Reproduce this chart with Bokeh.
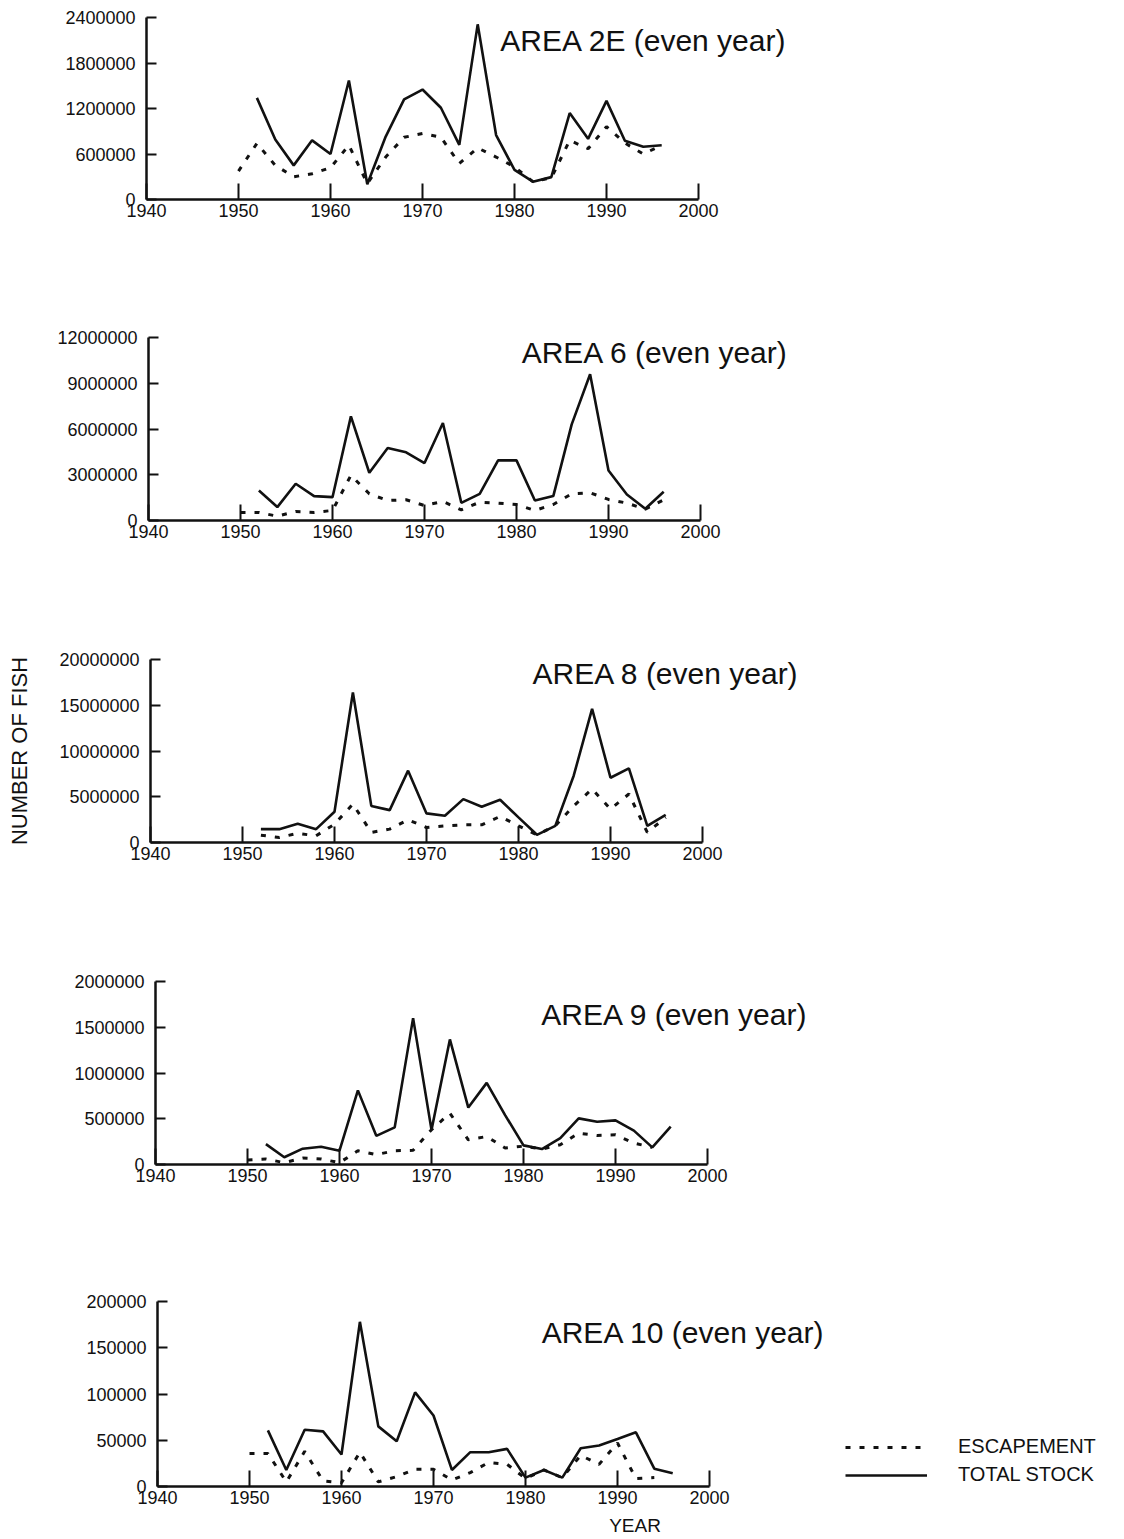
import math
from bokeh.plotting import figure
from bokeh.models import Range1d, FixedTicker, BasicTickFormatter, Label, Legend, LegendItem, Spacer
from bokeh.layouts import column, row
from bokeh.embed import file_html
from bokeh.resources import INLINE

NaN = float("nan")

# ---------------- data ----------------
years = list(range(1950, 1997, 2))
x_ticks = [1940, 1950, 1960, 1970, 1980, 1990, 2000]

area2e_total = [NaN, 1340000, 790000, 450000, 780000, 600000, 1570000, 200000, 830000, 1320000,
                1450000, 1210000, 720000, 2310000, 850000, 390000, 235000, 295000, 1140000, 800000,
                1300000, 775000, 695000, 715000]
area2e_esc = [375000, 740000, 450000, 300000, 340000, 420000, 715000, 210000, 560000, 820000,
              870000, 820000, 475000, 680000, 560000, 430000, 235000, 285000, 780000, 670000,
              960000, 745000, 600000, 715000]
area2e_yticks = [0, 600000, 1200000, 1800000, 2400000]

area6_total = [NaN, 1970000, 880000, 2410000, 1600000, 1530000, 6830000, 3130000, 4750000, 4470000,
               3770000, 6390000, 1160000, 1750000, 3940000, 3940000, 1310000, 1600000, 6300000, 9590000,
               3280000, 1710000, 770000, 1880000]
area6_esc = [530000, 530000, 280000, 590000, 530000, 660000, 2960000, 1750000, 1310000, 1360000,
             980000, 1250000, 700000, 1200000, 1140000, 1050000, 660000, 1050000, 1750000, 1820000,
             1380000, 1140000, 740000, 1360000]
area6_yticks = [0, 3000000, 6000000, 9000000, 12000000]

area8_total = [NaN, 1460000, 1460000, 2040000, 1460000, 3360000, 16400000, 4000000, 3540000, 7850000,
               3180000, 2920000, 4740000, 3900000, 4670000, 2740000, 840000, 1820000, 7300000, 14600000,
               7080000, 8100000, 1820000, 3030000]
area8_esc = [NaN, 800000, 550000, 1000000, 730000, 2000000, 4200000, 1100000, 1460000, 2480000,
             1640000, 1820000, 1930000, 1930000, 2850000, 1820000, 840000, 1820000, 4000000, 5840000,
             3650000, 5300000, 1100000, 2740000]
area8_yticks = [0, 5000000, 10000000, 15000000, 20000000]

area9_total = [NaN, 223000, 79000, 173000, 194000, 151000, 810000, 313000, 406000, 1600000,
               378000, 1367000, 622000, 892000, 540000, 209000, 169000, 288000, 504000, 468000,
               482000, 370000, 187000, 414000]
area9_esc = [50000, 60000, 20000, 70000, 60000, 20000, 150000, 108000, 150000, 155000,
             380000, 560000, 270000, 306000, 180000, 200000, 169000, 216000, 342000, 317000,
             324000, 234000, 187000, NaN]
area9_yticks = [0, 500000, 1000000, 1500000, 2000000]

area10_total = [NaN, 60700, 17900, 61400, 59600, 34600, 178000, 65000, 48900, 101800,
                76800, 17900, 37100, 37100, 40700, 9600, 17900, 9600, 41400, 44300,
                51400, 58600, 19300, 14300]
area10_esc = [35700, 35700, 5000, 38000, 6000, 4000, 37000, 5000, 10700, 18600,
              18600, 7000, 15000, 26000, 24000, 8600, 17900, 9600, 33600, 24000,
              47000, 8600, 9600, NaN]
area10_yticks = [0, 50000, 100000, 150000, 200000]

titles = ["AREA 2E (even year)", "AREA 6 (even year)", "AREA 8 (even year)",
          "AREA 9 (even year)", "AREA 10 (even year)"]

# ---------------- layout / style ----------------
FONT = "Liberation Sans"
TOTAL_W = 1116
AXIS_W = 552          # pixel width of the 1940-2000 span
RIGHT = 4
INK = "#111111"

panels = [
    dict(total=area2e_total, esc=area2e_esc, yt=area2e_yticks, h=328, top=17, fh=182, left=130, shift=16, tx=0.641, ty=0.875),
    dict(total=area6_total, esc=area6_esc, yt=area6_yticks, h=320, top=9, fh=183, left=130, shift=18, tx=0.676, ty=0.918),
    dict(total=area8_total, esc=area8_esc, yt=area8_yticks, h=321, top=11, fh=183, left=150, shift=0, tx=0.692, ty=0.923),
    dict(total=area9_total, esc=area9_esc, yt=area9_yticks, h=320, top=12, fh=183, left=130, shift=25, tx=0.699, ty=0.82),
    dict(total=area10_total, esc=area10_esc, yt=area10_yticks, h=250, top=12, fh=185, left=130, shift=27, tx=0.696, ty=0.832),
]

rows = []
for i, pd_ in enumerate(panels):
    ymax = pd_["yt"][-1]
    fig_w = TOTAL_W - pd_["shift"]
    frame_w = fig_w - pd_["left"] - RIGHT
    x_end = 1940 + 60 * frame_w / AXIS_W
    p = figure(width=fig_w, height=pd_["h"], x_range=Range1d(1940, x_end), y_range=Range1d(0, ymax),
               output_backend="svg", toolbar_location=None,
               min_border_left=pd_["left"], min_border_right=RIGHT,
               min_border_top=pd_["top"], min_border_bottom=pd_["h"] - pd_["top"] - pd_["fh"])
    p.outline_line_color = None
    p.xgrid.visible = False
    p.ygrid.visible = False
    p.background_fill_color = "white"
    p.border_fill_color = "white"

    xa = p.xaxis[0]
    xa.bounds = (1940, 2000)
    xa.ticker = FixedTicker(ticks=x_ticks)
    xa.minor_tick_line_color = None
    xa.major_tick_in = 16
    xa.major_tick_out = 0
    xa.major_label_standoff = 4
    xa.axis_line_width = 2.5
    xa.major_tick_line_width = 2
    xa.axis_line_color = INK
    xa.major_tick_line_color = INK
    xa.major_label_text_font = FONT
    xa.major_label_text_font_size = "18px"
    xa.major_label_text_color = INK

    ya = p.yaxis[0]
    ya.ticker = FixedTicker(ticks=pd_["yt"])
    ya.formatter = BasicTickFormatter(use_scientific=False)
    ya.minor_tick_line_color = None
    ya.major_tick_in = 10
    ya.major_tick_out = 0
    ya.major_label_standoff = 11
    ya.axis_line_width = 2.5
    ya.major_tick_line_width = 2
    ya.axis_line_color = INK
    ya.major_tick_line_color = INK
    ya.major_label_text_font = FONT
    ya.major_label_text_font_size = "18px"
    ya.major_label_text_color = INK

    r_tot = p.line(years, pd_["total"], line_color=INK, line_width=2.6)
    r_esc = p.line(years, pd_["esc"], line_color=INK, line_width=3, line_dash="5 9")

    p.add_layout(Label(x=1940 + 60 * pd_["tx"], y=ymax * pd_["ty"], text=titles[i],
                       text_font=FONT, text_font_size="30px", text_color=INK,
                       text_align="left", text_baseline="middle"))

    if i == 2:
        ya.axis_label = "NUMBER OF FISH"
        ya.axis_label_standoff = 24
        ya.axis_label_text_font = FONT
        ya.axis_label_text_font_size = "22px"
        ya.axis_label_text_font_style = "normal"
        ya.axis_label_text_color = INK
    if i == 4:
        xa.axis_label = "YEAR"
        xa.axis_label_standoff = 8
        xa.axis_label_text_font = FONT
        xa.axis_label_text_font_size = "19px"
        xa.axis_label_text_font_style = "normal"
        xa.axis_label_text_color = INK
        legend = Legend(items=[LegendItem(label="ESCAPEMENT", renderers=[r_esc]),
                               LegendItem(label="TOTAL STOCK", renderers=[r_tot])],
                        location=(688, 0), orientation="vertical",
                        glyph_width=82, glyph_height=20, label_height=20, label_standoff=31,
                        spacing=5, padding=0, margin=0,
                        border_line_alpha=0, background_fill_alpha=0,
                        label_text_font=FONT, label_text_font_size="20px", label_text_color=INK)
        p.add_layout(legend, "center")
    if pd_["shift"] > 0:
        rows.append(row(Spacer(width=pd_["shift"], height=pd_["h"]), p, spacing=0))
    else:
        rows.append(row(p, spacing=0))

layout = column(*rows, spacing=0)
open("out.html", "w").write(file_html(layout, INLINE))
